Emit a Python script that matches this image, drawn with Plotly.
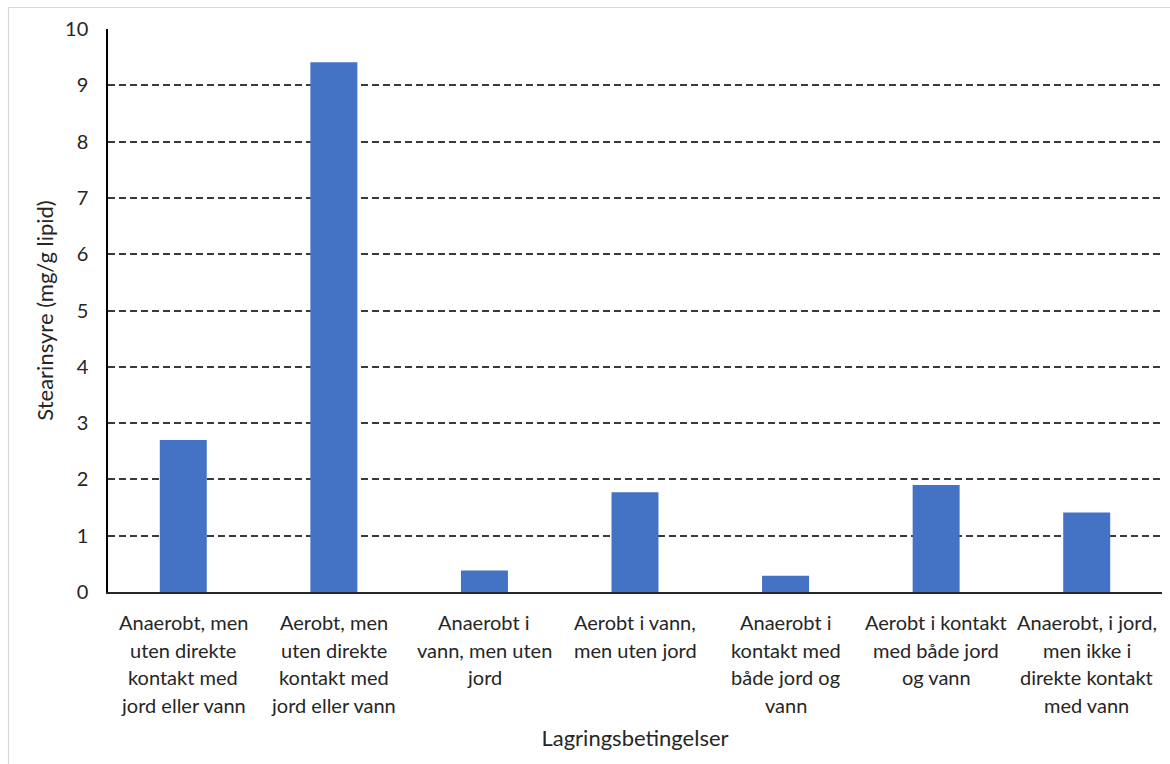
import plotly.graph_objects as go

# Storage conditions (x categories) and stearic acid content (mg/g lipid)
categories = [
    "Anaerobt, men<br>uten direkte<br>kontakt med<br>jord eller vann",
    "Aerobt, men<br>uten direkte<br>kontakt med<br>jord eller vann",
    "Anaerobt i<br>vann, men uten<br>jord",
    "Aerobt i vann,<br>men uten jord",
    "Anaerobt i<br>kontakt med<br>både jord og<br>vann",
    "Aerobt i kontakt<br>med både jord<br>og vann",
    "Anaerobt, i jord,<br>men ikke i<br>direkte kontakt<br>med vann",
]
stearinsyre = [2.70, 9.41, 0.38, 1.77, 0.29, 1.90, 1.41]
y_ticks = list(range(0, 11))

FONT = "Lato, Calibri, 'Open Sans', sans-serif"
TEXT = "#262626"
BLUE = "#4472C4"

fig = go.Figure(
    go.Bar(
        x=categories,
        y=stearinsyre,
        marker=dict(color=BLUE, line=dict(width=0)),
        hoverinfo="x+y",
    )
)

# Multi-line category labels, one annotation per line for Excel-like leading
LINE_STEP = 27.6
annotations = []
for cat in categories:
    for i, line in enumerate(cat.split("<br>")):
        annotations.append(
            dict(
                x=cat, xref="x", y=0, yref="paper",
                text=line, showarrow=False,
                xanchor="center", yanchor="middle",
                yshift=-(30 + i * LINE_STEP),
                font=dict(family=FONT, size=20, color=TEXT),
            )
        )

fig.update_layout(
    width=1170,
    height=764,
    margin=dict(l=108, r=8, t=29, b=172),
    paper_bgcolor="white",
    plot_bgcolor="white",
    bargap=0.688,
    showlegend=False,
    font=dict(family=FONT, color=TEXT),
    annotations=annotations,
    shapes=[
        # light chart-area frame
        dict(
            type="rect", xref="paper", yref="paper",
            x0=-0.0944, x1=1.2, y0=-0.5, y1=1.0382,
            line=dict(color="#d9d9d9", width=1.2),
            fillcolor="rgba(0,0,0,0)", layer="below",
        )
    ],
    xaxis=dict(
        type="category",
        showticklabels=False,
        showline=True,
        linecolor="#262626",
        linewidth=1.5,
        showgrid=False,
        zeroline=False,
        ticks="",
        title=dict(
            text="Lagringsbetingelser",
            font=dict(family=FONT, size=22, color=TEXT),
            standoff=138,
        ),
        automargin=False,
    ),
    yaxis=dict(
        range=[0, 10],
        tickvals=y_ticks,
        ticktext=[str(v) for v in y_ticks],
        tickfont=dict(family=FONT, size=20, color=TEXT),
        ticks="",
        ticklabelstandoff=14,
        showline=True,
        linecolor="#000000",
        linewidth=1.5,
        showgrid=True,
        gridcolor="#3a3a3a",
        gridwidth=1.8,
        griddash="7px,4px",
        zeroline=False,
        title=dict(
            text="Stearinsyre (mg/g lipid)",
            font=dict(family=FONT, size=22, color=TEXT),
            standoff=5,
        ),
        automargin=False,
    ),
)

fig.write_html("out.html")
